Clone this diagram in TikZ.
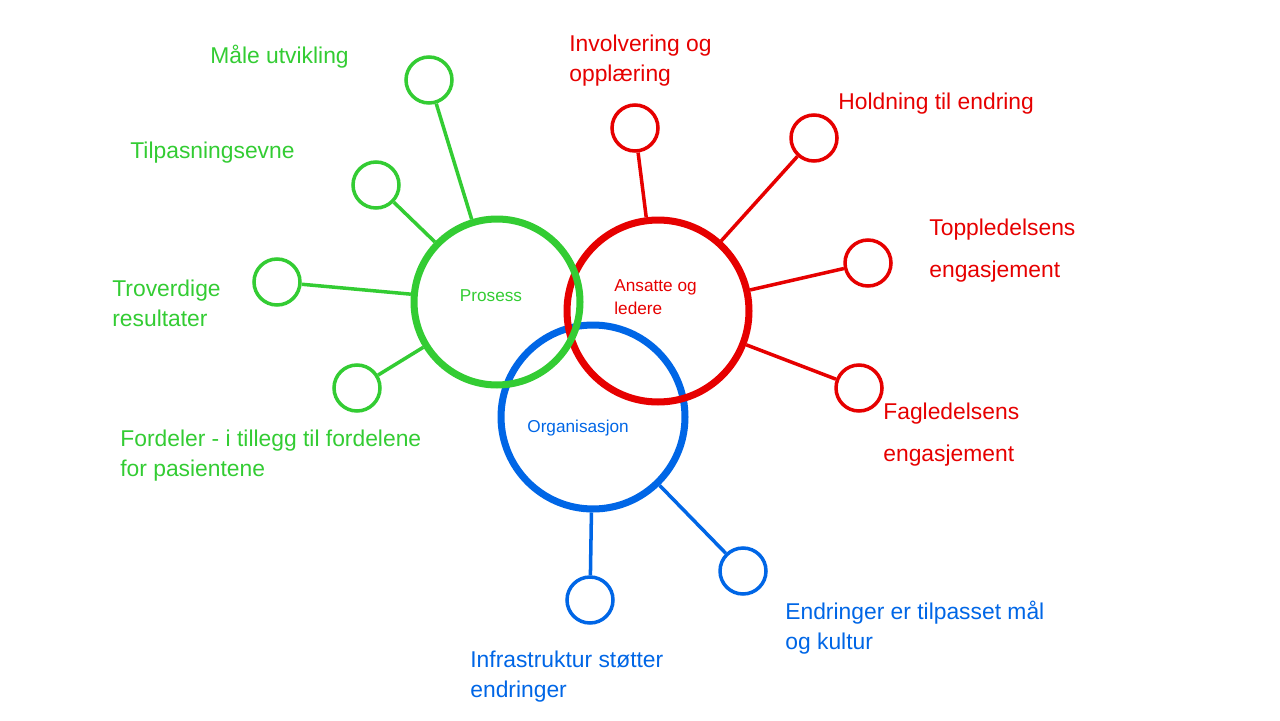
\documentclass[tikz,border=0pt]{standalone}
\usepackage{fontspec}
\setmainfont{Liberation Sans}
\usetikzlibrary{positioning}
\definecolor{grn}{RGB}{51,204,51}
\definecolor{rd}{RGB}{230,0,0}
\definecolor{blu}{RGB}{0,102,230}
\begin{document}
\begin{tikzpicture}[x=0.02cm, y=-0.02cm,
    hub/.style={circle, draw, line width=4pt, inner sep=0pt},
    leaf/.style={circle, draw, line width=2pt, minimum size=0.92cm, inner sep=0pt},
    spoke/.style={line width=2pt},
    lbl/.style={anchor=west, align=left, font=\fontsize{13}{17}\selectfont, inner sep=0pt},
    inlbl/.style={align=left, font=\fontsize{9.8}{13}\selectfont, inner sep=0pt}
  ]
  \useasboundingbox (0,0) rectangle (1280,720);
  % hubs
  \node[hub, blu, minimum size=3.68cm] (org) at (593,417) {};
  \node[hub, rd, minimum size=3.64cm] (ansatte) at (658,311) {};
  \node[hub, grn, minimum size=3.32cm] (prosess) at (497,302) {};
  \node[inlbl, grn] at (491,296) {Prosess};
  \node[inlbl, rd, anchor=west] at (614,297) {Ansatte og\\ledere};
  \node[inlbl, blu, anchor=west] at (527,428) {Organisasjon};

  % green leaves
  \node[leaf, grn] (g1) at (429,80) {};
  \node[leaf, grn] (g2) at (376,185) {};
  \node[leaf, grn] (g3) at (277,282) {};
  \node[leaf, grn] (g4) at (357,388) {};
  \foreach \n in {g1,g2,g3,g4}
    \draw[spoke, grn] (\n) -- (prosess);
  \node[lbl, grn] at (210,57) {Måle utvikling};
  \node[lbl, grn] at (130,153) {Tilpasningsevne};
  \node[lbl, grn] at (112,303) {Troverdige\\resultater};
  \node[lbl, grn] at (120,456) {Fordeler - i tillegg til fordelene\\for pasientene};

  % red leaves
  \node[leaf, rd] (r1) at (635,128) {};
  \node[leaf, rd] (r2) at (814,138) {};
  \node[leaf, rd] (r3) at (868,263) {};
  \node[leaf, rd] (r4) at (859,388) {};
  \foreach \n in {r1,r2,r3,r4}
    \draw[spoke, rd] (\n) -- (ansatte);
  \node[lbl, rd] at (569,61) {Involvering og\\opplæring};
  \node[lbl, rd] at (838,104) {Holdning til endring};
  \node[lbl, rd, font=\fontsize{13}{24}\selectfont] at (929,251) {Toppledelsens\\engasjement};
  \node[lbl, rd, font=\fontsize{13}{24}\selectfont] at (883,435) {Fagledelsens\\engasjement};

  % blue leaves
  \node[leaf, blu] (b1) at (590,600) {};
  \node[leaf, blu] (b2) at (743,571) {};
  \foreach \n in {b1,b2}
    \draw[spoke, blu] (\n) -- (org);
  \node[lbl, blu] at (785,628) {Endringer er tilpasset mål\\og kultur};
  \node[lbl, blu] at (470,677) {Infrastruktur støtter\\endringer};
\end{tikzpicture}
\end{document}
